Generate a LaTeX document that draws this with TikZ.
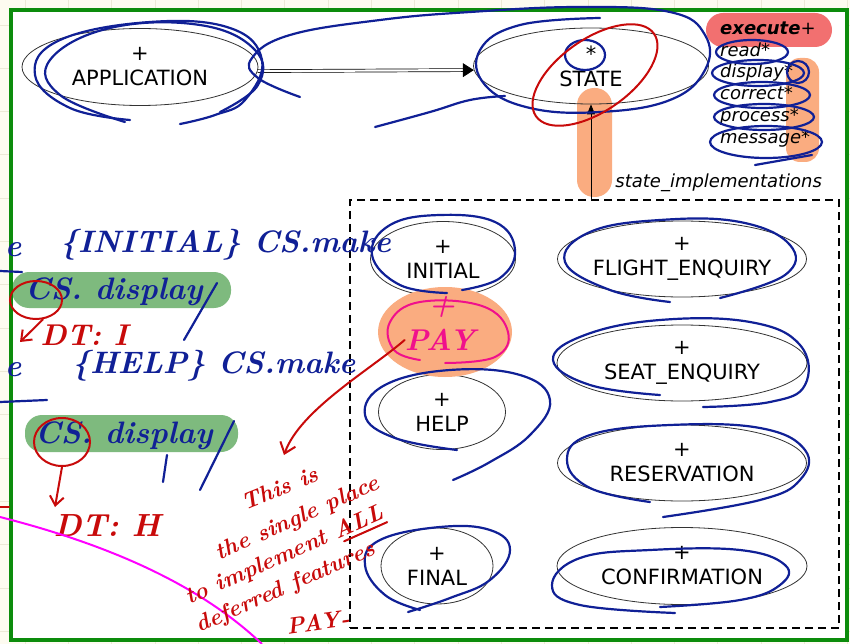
\documentclass[tikz,border=0pt]{standalone}
\usepackage{fontspec}
\newfontfamily\dvsans{DejaVu Sans}
\usetikzlibrary{shapes,arrows.meta,positioning,calc}

\definecolor{inkblue}{RGB}{16,32,150}
\definecolor{inkred}{RGB}{200,10,10}
\definecolor{inkpink}{RGB}{240,16,140}
\definecolor{hlgreen}{RGB}{126,186,126}
\definecolor{hlorange}{RGB}{250,172,128}
\definecolor{hlred}{RGB}{242,112,112}
\definecolor{framegreen}{RGB}{12,140,12}
\definecolor{paper}{RGB}{253,251,240}
\definecolor{paperline}{RGB}{236,233,214}
\definecolor{arcpink}{RGB}{255,0,255}

\tikzset{
  cls/.style={ellipse, draw=black!80, line width=0.8pt, inner sep=0pt, inner xsep=-15pt,
    align=center, font=\dvsans\fontsize{21}{25}\selectfont},
  feat/.style={anchor=base west, inner sep=0pt, font=\dvsans\itshape\fontsize{18}{21}\selectfont},
  implbox/.style={draw, dash pattern=on 8pt off 5pt, line width=1.6pt, inner sep=0pt},
  client/.style={double, double distance=2.2pt, line width=0.7pt, -{Triangle[length=11pt,width=14pt]}},
  inherit/.style={line width=0.8pt, -{Triangle[length=10pt,width=8pt]}},
  scribble/.style={draw=inkblue, line width=2.2pt, line cap=round, line join=round},
  redink/.style={draw=inkred, line width=2pt, line cap=round},
  hwblue/.style={text=inkblue, inner sep=0pt, font=\bfseries\itshape\fontsize{31}{33}\selectfont},
  hwred/.style={text=inkred, inner sep=0pt, font=\bfseries\itshape\fontsize{23}{25}\selectfont},
  hwpink/.style={text=inkpink, inner sep=0pt, font=\bfseries\itshape\fontsize{30}{32}\selectfont},
  marker/.style={rounded corners=17pt}
}

\begin{document}
\begin{tikzpicture}[x=1pt, y=-1pt]
\useasboundingbox (0,0) rectangle (850,644);

% paper and frame
\fill[paper] (0,0) rectangle (850,644);
\foreach \g in {0,...,19} {
  \draw[paperline, line width=0.8pt] (25+43.3*\g,0) -- (25+43.3*\g,644);
  \draw[paperline, line width=0.8pt] (0,25+43.3*\g) -- (850,25+43.3*\g);
}
\fill[white] (11,10) rectangle (847,640);

% highlighter marks
\fill[hlred, marker] (706,13) rectangle (832,47);
\fill[hlorange, marker] (577,88) rectangle (612,197);
\fill[hlorange, rounded corners=14pt] (786,58) rectangle (819,162);
\fill[hlgreen, marker] (12,272) rectangle (231,308);
\fill[hlgreen, marker] (25,415) rectangle (238,452);

\draw[framegreen, line width=4.5pt] (11,10) rectangle (847,640);

% the classes
\node [cls, minimum width=236pt, minimum height=77pt] (app) at (140,67) {+\\APPLICATION};
\node [cls, minimum width=235pt, minimum height=76pt] (state) at (591,66) {*\\STATE};
\path (app.-2) edge [client] (state.182);

\foreach \f/\t/\y in {1/\textbf{execute}+/35, 2/read*/57, 3/display*/78, 4/correct*/100, 5/process*/122, 6/message*/144}
  \node [feat] (feat\f) at (720,\y) {\t};

\node [implbox, minimum width=489pt, minimum height=428pt] (impl) at (594.5,414) {};
\draw [inherit] (impl.north -| state.south) -- node [feat, pos=0.12, xshift=24pt] {state\_implementations} (state.south);

\node [cls, minimum width=145pt, minimum height=75pt] (initial) at (443,259) {+\\INITIAL};
\node [cls, minimum width=249pt, minimum height=76pt] (flight) at (682,259) {+\\FLIGHT\_ENQUIRY};
\node [cls, minimum width=250pt, minimum height=76pt] (seat) at (682,363) {+\\SEAT\_ENQUIRY};
\node [cls, minimum width=127pt, minimum height=75pt] (help) at (442,412) {+\\HELP};
\node [cls, minimum width=249pt, minimum height=76pt] (reserv) at (682,463) {+\\RESERVATION};
\node [cls, minimum width=112pt, minimum height=76pt] (final) at (437,566) {+\\FINAL};
\node [cls, minimum width=250pt, minimum height=77pt] (confirm) at (682,566) {+\\CONFIRMATION};

% the added class
\fill[hlorange] (445,332) ellipse [x radius=67, y radius=45];
\node [hwpink] (pay) at (440,340) {PAY};
\node [hwpink] (payplus) at (442,307) {+};
\draw[inkpink, line width=2pt, line cap=round] plot[smooth, tension=0.7] coordinates
  {(445,363) (495,357) (508,332) (482,306) (420,302) (390,322) (394,350) (420,360)};

% blue pen loops
\draw[scribble] plot[smooth, tension=0.7] coordinates {(130,120) (70,108) (35,75) (60,40) (150,22) (230,28) (262,60) (245,100) (215,115) (180,124)};
\draw[scribble] plot[smooth, tension=0.7] coordinates {(125,122) (60,95) (50,60) (110,28) (200,25) (255,50) (258,85) (220,112)};
\draw[scribble] plot[smooth, tension=0.7] coordinates {(300,97) (258,78) (252,58) (290,35) (380,20) (470,12) (580,7) (670,12) (705,35) (705,70) (670,100) (600,112) (530,108) (485,85) (480,50) (520,25) (600,18)};
\draw[scribble] plot[smooth, tension=0.7] coordinates {(375,127) (430,112) (470,100) (505,96)};
\draw[scribble] (585,55) ellipse [x radius=20, y radius=15];
\draw[scribble] (752,52) ellipse [x radius=36, y radius=12];
\draw[scribble] (758,73) ellipse [x radius=46, y radius=13];
\draw[scribble] (798,72) ellipse [x radius=11, y radius=11];
\draw[scribble] (762,95) ellipse [x radius=48, y radius=13];
\draw[scribble] (764,117) ellipse [x radius=50, y radius=13];
\draw[scribble] (766,142) ellipse [x radius=56, y radius=16];
\draw[scribble] (755,165) -- (812,155);
\draw[scribble] plot[smooth, tension=0.7] coordinates {(447,293) (400,285) (372,255) (390,225) (440,215) (495,222) (515,250) (500,278) (462,290)};
\draw[scribble] plot[smooth, tension=0.7] coordinates {(670,302) (610,290) (565,262) (590,232) (660,220) (740,222) (790,245) (785,275) (720,298)};
\draw[scribble] plot[smooth, tension=0.7] coordinates {(660,395) (590,385) (553,360) (585,335) (660,320) (750,322) (800,345) (805,385) (770,402) (703,407)};
\draw[scribble] plot[smooth, tension=0.7] coordinates {(457,450) (395,438) (365,415) (385,385) (450,370) (520,375) (550,400) (530,435) (490,462) (453,480)};
\draw[scribble] plot[smooth, tension=0.7] coordinates {(650,502) (590,488) (567,460) (590,435) (670,425) (760,428) (805,450) (800,480) (760,500) (663,517)};
\draw[scribble] plot[smooth, tension=0.7] coordinates {(408,612) (450,598) (490,580) (510,550) (490,530) (440,527) (380,540) (365,565) (385,595) (420,610)};
\draw[scribble] plot[smooth, tension=0.7] coordinates {(660,607) (740,600) (780,585) (785,565) (740,550) (650,550) (580,558) (552,585) (580,605) (675,613)};
\draw[inkred, line width=2pt, line cap=round, rotate around={35:(595,75)}] (595,75) ellipse [x radius=72, y radius=36];

% notes on the left
\node [hwblue] (e1) at (13,250) {e};
\node [hwblue, anchor=west] (make1) at (60,245) {\{INITIAL\} CS.make};
\node [hwblue, anchor=west] (disp1) at (25,292) {CS. display};
\node [hwblue] (e2) at (13,370) {e};
\node [hwblue, anchor=west] (make2) at (72,366) {\{HELP\} CS.make};
\node [hwblue, anchor=west] (disp2) at (35,436) {CS. display};
\draw[scribble] (0,271) -- (22,272);
\draw[scribble] (0,402) -- (47,400);
\draw[scribble] (184,340) -- (217,283);
\draw[scribble] (163,482) -- (167,455);
\draw[scribble] (200,490) -- (234,421);

\node [draw=inkred, line width=2pt, ellipse, minimum width=52pt, minimum height=38pt] (ring1) at (36,300) {};
\node [draw=inkred, line width=2pt, ellipse, minimum width=56pt, minimum height=48pt] (ring2) at (62,442) {};
\node [hwred, font=\bfseries\itshape\fontsize{30}{32}\selectfont] (dt1) at (84,335) {DT: I};
\node [hwred, font=\bfseries\itshape\fontsize{32}{34}\selectfont] (dt2) at (107,526) {DT: H};
\coordinate (tip1) at (20,342);
\coordinate (tip2) at (55,507);
\draw[redink, -{Straight Barb[length=9pt,width=14pt]}] (ring1.-70) -- (tip1);
\draw[redink, -{Straight Barb[length=9pt,width=14pt]}] (ring2.south) -- (tip2);
\draw[redink] (0,507) -- (9,507);

% the remark on PAY
\draw[arcpink, line width=2pt] (0,517) .. controls (110,545) and (200,585) .. (262,644);
\coordinate (tip3) at (284,455);
\draw[redink, -{Straight Barb[length=10pt,width=16pt]}] (pay.west) .. controls (370,370) and (300,410) .. (tip3);
\node [hwred, rotate=22] (r1) at (280,488) {This is};
\node [hwred, rotate=24] (r2) at (298,519) {the single place};
\node [hwred, rotate=24] (r3) at (285,556) {to implement ALL};
\node [hwred, rotate=24] (r4) at (286,588) {deferred features};
\node [hwred, rotate=8] (r5) at (318,622) {PAY-};
\draw[redink] ($(r3.south east)!0.22!(r3.south west)$) -- (r3.south east);

\end{tikzpicture}
\end{document}
